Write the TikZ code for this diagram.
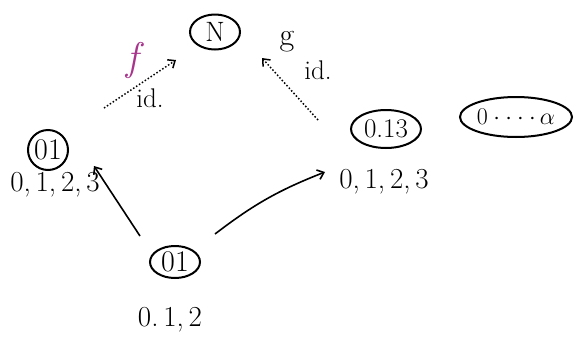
\RequirePackage{fix-cm}
\documentclass[tikz,border=0pt]{standalone}
\usepackage{fontspec}
\usetikzlibrary{shapes.geometric,arrows.meta}
\definecolor{fmag}{RGB}{168,52,140}
\begin{document}
\begin{tikzpicture}[x=1pt,y=-1pt,
  oval/.style={draw,ellipse,line width=2pt,inner sep=0pt},
  lbl/.style={font=\fontsize{29}{31}\selectfont},
  idl/.style={font=\fontsize{27}{29}\selectfont},
  sol/.style={line width=1.6pt,-{Straight Barb[length=6pt,width=10pt]}},
  dot/.style={line width=1.5pt,dotted,-{Straight Barb[length=6pt,width=10pt]}}]
\useasboundingbox (0,0) rectangle (582,338);
\node[oval,minimum width=50pt,minimum height=35pt,font=\fontsize{28}{30}\selectfont] (N) at (215,32) {N};
\node[font=\fontsize{40}{42}\selectfont\itshape,text=fmag] (f) at (132,60) {f};
\node[font=\fontsize{32}{34}\selectfont] (g) at (287,42) {g};
\node[idl] (id1) at (150,98) {id.};
\node[idl] (id2) at (318,70) {id.};
\node[oval,circle,minimum size=40pt,font=\fontsize{30}{32}\selectfont] (L) at (48,150) {01};
\node[lbl] (Ll) at (55,185) {0,\,1,\,2,\,3};
\node[oval,minimum width=50pt,minimum height=32pt,font=\fontsize{30}{32}\selectfont] (B) at (175,262) {01};
\node[lbl] (Bl) at (170,320) {0.\,1,\,2};
\node[oval,minimum width=70pt,minimum height=38pt,font=\fontsize{27}{29}\selectfont] (R) at (386,129) {0.13};
\node[lbl] (Rl) at (384,182) {0,\,1,\,2,\,3};
\node[oval,minimum width=112pt,minimum height=40pt,font=\fontsize{24}{26}\selectfont] (A) at (516,117) {$0\cdot\cdot\cdot\cdot\,\alpha$};
\coordinate (c1) at (104,108);
\coordinate (c2) at (176,60);
\coordinate (c3) at (318,120);
\coordinate (c4) at (262,58);
\coordinate (c5) at (140,236);
\coordinate (c6) at (94,166);
\coordinate (c7) at (215,234);
\coordinate (c8) at (325,172);
\draw[dot] (c1) -- (c2);
\draw[dot] (c3) -- (c4);
\draw[sol] (c5) -- (c6);
\draw[sol] (c7) to[bend left=8] (c8);
\end{tikzpicture}
\end{document}
